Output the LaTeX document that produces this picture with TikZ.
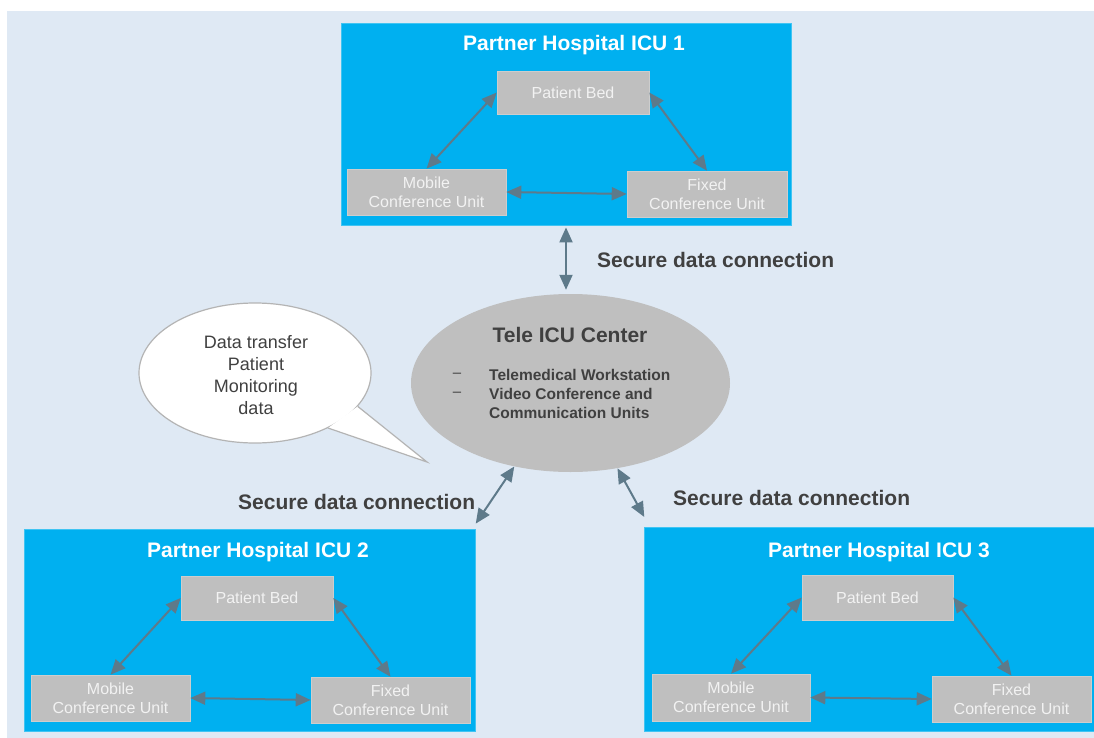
\documentclass[tikz,border=0pt]{standalone}
\usepackage{fontspec}
\setmainfont{Liberation Sans}
\usetikzlibrary{arrows.meta,shapes.geometric}
\definecolor{bg}{HTML}{DFE9F4}
\definecolor{icublue}{HTML}{00B0F0}
\definecolor{icuedge}{HTML}{40C4F2}
\definecolor{unitgray}{HTML}{BFBFBF}
\definecolor{unitedge}{HTML}{CDCDCD}
\definecolor{unittext}{HTML}{F2F2F2}
\definecolor{arrowc}{HTML}{5E7A8A}
\definecolor{darktext}{HTML}{404040}
\definecolor{bubbleedge}{HTML}{B4B4B4}
\begin{document}
\begin{tikzpicture}[x=1pt,y=-1pt,
  hospital/.style={rectangle, fill=icublue, draw=icuedge, line width=0.8pt, inner sep=0pt},
  unit/.style={rectangle, fill=unitgray, draw=unitedge, line width=0.6pt, inner sep=0pt,
    text=unittext, font=\fontsize{16}{19}\selectfont, align=center},
  hosptitle/.style={text=white, font=\bfseries\fontsize{21}{25}\selectfont, inner sep=0pt},
  link/.style={draw=arrowc, line width=2pt,
    {Triangle[length=15pt,width=13pt]}-{Triangle[length=15pt,width=13pt]}},
  conlabel/.style={text=darktext, font=\bfseries\fontsize{21}{25}\selectfont, anchor=west, inner sep=0pt},
]
\useasboundingbox (0,0) rectangle (1094,738);
\fill[white] (0,0) rectangle (1094,738);
\fill[bg] (7,11) rectangle (1094,738);

% Hospital ICU 1
\node[hospital, minimum width=450pt, minimum height=202pt] (ICU1) at (566,124) {};
\node[hosptitle] (T1) at (574,45) {Partner Hospital ICU 1};
\node[unit, minimum width=152pt, minimum height=43pt] (PB1) at (573,92.5) {Patient Bed};
\node[unit, minimum width=159pt, minimum height=46pt] (M1) at (426.5,192) {Mobile\\Conference Unit};
\node[unit, minimum width=160pt, minimum height=46pt] (F1) at (707,194) {Fixed\\Conference Unit};
\draw[link] (PB1.west) -- (M1.north);
\draw[link] (PB1.east) -- (F1.north);
\draw[link] (M1.east) -- (F1.west);

% Hospital ICU 2
\node[hospital, minimum width=451pt, minimum height=202pt] (ICU2) at (249.5,630) {};
\node[hosptitle] (T2) at (258,552) {Partner Hospital ICU 2};
\node[unit, minimum width=152pt, minimum height=44pt] (PB2) at (257,598) {Patient Bed};
\node[unit, minimum width=159pt, minimum height=46pt] (M2) at (110.5,698) {Mobile\\Conference Unit};
\node[unit, minimum width=159pt, minimum height=46pt] (F2) at (390.5,700) {Fixed\\Conference Unit};
\draw[link] (PB2.west) -- (M2.north);
\draw[link] (PB2.east) -- (F2.north);
\draw[link] (M2.east) -- (F2.west);

% Hospital ICU 3
\node[hospital, minimum width=450pt, minimum height=204pt] (ICU3) at (869,629) {};
\node[hosptitle] (T3) at (879,552) {Partner Hospital ICU 3};
\node[unit, minimum width=151pt, minimum height=45pt] (PB3) at (877.5,597.5) {Patient Bed};
\node[unit, minimum width=158pt, minimum height=47pt] (M3) at (731,697.5) {Mobile\\Conference Unit};
\node[unit, minimum width=159pt, minimum height=46pt] (F3) at (1011.5,699) {Fixed\\Conference Unit};
\draw[link] (PB3.west) -- (M3.north);
\draw[link] (PB3.east) -- (F3.north);
\draw[link] (M3.east) -- (F3.west);

% Tele ICU Center
\node[ellipse, fill=unitgray, minimum width=319pt, minimum height=178pt, inner sep=0pt] (tele) at (570.5,383) {};
\node[text=darktext, font=\bfseries\fontsize{21}{25}\selectfont, inner sep=0pt] (teletitle) at (570,335) {Tele ICU Center};
\node[anchor=west, align=left, text=darktext, font=\bfseries\fontsize{15.5}{19}\selectfont, inner sep=0pt] (telelist) at (489,394) {Telemedical Workstation\\Video Conference and\\Communication Units};
\node[text=darktext, font=\fontsize{15}{19}\selectfont, inner sep=0pt] (dash1) at (457,375) {–};
\node[text=darktext, font=\fontsize{15}{19}\selectfont, inner sep=0pt] (dash2) at (457,394) {–};

% Speech bubble
\node[ellipse, fill=white, draw=bubbleedge, line width=1.2pt, minimum width=232pt, minimum height=140pt, inner sep=0pt] (bubble) at (255,373) {};
\coordinate (btip) at (427,462);
\fill[white] (bubble.-18) -- (btip) -- (bubble.-37) -- cycle;
\draw[bubbleedge, line width=1.2pt, line join=miter] (bubble.-18) -- (btip) -- (bubble.-37);
\node[align=center, text=darktext, font=\fontsize{18}{22}\selectfont, inner sep=0pt] (btext) at (256,375) {Data transfer\\Patient\\Monitoring\\data};

% Secure connections
\draw[link, shorten <=2pt, shorten >=4pt] (ICU1.south) -- (ICU1.south |- tele.north);
\draw[link, shorten <=6pt] ([xshift=-3pt]ICU2.north east) -- (tele);
\draw[link, shorten <=11pt] ([xshift=6pt]ICU3.north west) -- (tele);
\node[conlabel] (lab1) at (597,260) {Secure data connection};
\node[conlabel] (lab2) at (238,502) {Secure data connection};
\node[conlabel] (lab3) at (673,498) {Secure data connection};
\end{tikzpicture}
\end{document}
